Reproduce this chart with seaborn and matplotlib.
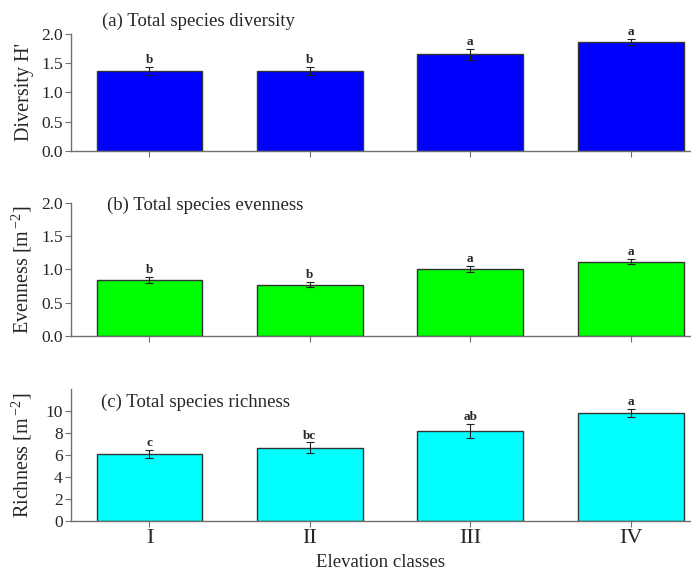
import matplotlib
matplotlib.use("Agg")
import matplotlib.pyplot as plt
import seaborn as sns
import pandas as pd

categories = ["I", "II", "III", "IV"]
diversity = [1.37, 1.37, 1.65, 1.87]
diversity_err = [0.07, 0.07, 0.09, 0.05]
diversity_letters = ["b", "b", "a", "a"]
evenness = [0.84, 0.77, 1.01, 1.12]
evenness_err = [0.05, 0.04, 0.05, 0.04]
evenness_letters = ["b", "b", "a", "a"]
richness = [6.1, 6.65, 8.15, 9.8]
richness_err = [0.36, 0.5, 0.65, 0.38]
richness_letters = ["c", "bc", "ab", "a"]

titles = ["(a) Total species diversity", "(b) Total species evenness", "(c) Total species richness"]
ylabels = ["Diversity H'",
           "Evenness [m$^{\\,\\mathregular{-2}}$]",
           "Richness [m$^{\\,\\mathregular{-2}}$]"]

sns.set_style("white")
plt.rcParams["font.family"] = ["Liberation Serif", "DejaVu Serif"]
plt.rcParams["mathtext.fontset"] = "custom"
plt.rcParams["mathtext.rm"] = "Liberation Serif"

fig = plt.figure(figsize=(6.91, 5.71), dpi=100)
W, H = 691, 571
left = 71 / W
width = (690 - 71) / W
boxes = [(150.7, 116.7), (335.7, 132.4), (520.7, 131.7)]
axes = [fig.add_axes([left, 1 - b / H, width, h / H]) for b, h in boxes]

panels = [
    (diversity, diversity_err, diversity_letters, "#0000ff", (0, 2.0), [0, 0.5, 1.0, 1.5, 2.0], ["0.0", "0.5", "1.0", "1.5", "2.0"], (0.05, 1.11)),
    (evenness, evenness_err, evenness_letters, "#00ff00", (0, 2.0), [0, 0.5, 1.0, 1.5, 2.0], ["0.0", "0.5", "1.0", "1.5", "2.0"], (0.058, 0.987)),
    (richness, richness_err, richness_letters, "#00ffff", (0, 12), [0, 2, 4, 6, 8, 10], ["0", "2", "4", "6", "8", "10"], (0.048, 0.90)),
]

spine_col = "#707070"
for i, (ax, (vals, errs, letters, col, ylim, yt, ytl, tpos)) in enumerate(zip(axes, panels)):
    df = pd.DataFrame({"cls": categories, "val": vals})
    sns.barplot(data=df, x="cls", y="val", color=col, saturation=1, width=0.66,
                edgecolor="#333333", linewidth=1.0, ax=ax)
    pos = list(range(len(categories)))
    ax.errorbar(pos, vals, yerr=errs, fmt="none", ecolor="#222222",
                elinewidth=0.8, capsize=2.8, capthick=0.8)
    for p, v, e, l in zip(pos, vals, errs, letters):
        ax.annotate(l, (p, v + e), xytext=(0, 0.5), textcoords="offset points",
                    ha="center", va="bottom", fontsize=9.5, fontweight="bold")
    ax.set_xlim(-0.489, 3.37)
    ax.set_ylim(*ylim)
    ax.set_yticks(yt)
    ax.set_yticklabels(ytl, fontsize=12.5)
    ax.set_ylabel(ylabels[i], fontsize=14.5)
    ax.yaxis.set_label_coords(-0.060, 0.5)
    ax.text(tpos[0], tpos[1], titles[i], transform=ax.transAxes, fontsize=13.5,
            ha="left", va="center")
    for s in ["top", "right"]:
        ax.spines[s].set_visible(False)
    for s in ["left", "bottom"]:
        ax.spines[s].set_color(spine_col)
        ax.spines[s].set_linewidth(1.0)
    ax.tick_params(axis="both", direction="out", length=4, width=0.8, color=spine_col,
                   left=True, bottom=True, pad=2)
    ax.set_xlabel("")
    if i < 2:
        ax.set_xticklabels([])
    else:
        ax.set_xticklabels(categories, fontsize=16)
        ax.set_xlabel("Elevation classes", fontsize=13.5, labelpad=4)

fig.savefig("out.png", dpi=100)
